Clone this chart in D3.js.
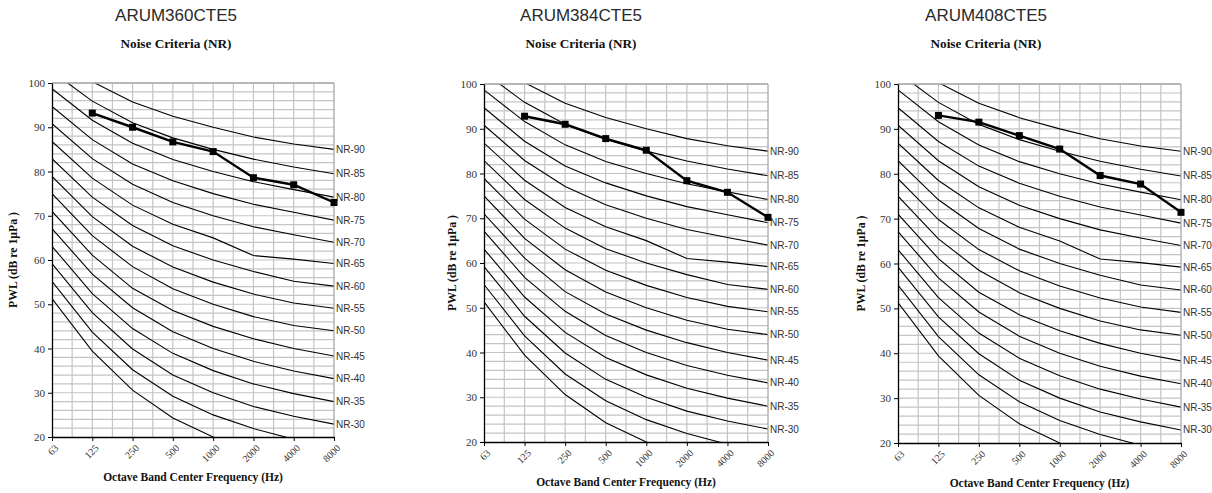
<!DOCTYPE html>
<html>
<head>
<meta charset="utf-8">
<script src="https://cdn.jsdelivr.net/npm/d3@7/dist/d3.min.js"></script>
<style>
  html, body { margin: 0; padding: 0; background: #fff; }
  svg { display: block; }
</style>
</head>
<body>
<svg id="chart" width="1212" height="493"></svg>
<script>
// ---------- DATA ----------
const freqLabels = ["63", "125", "250", "500", "1000", "2000", "4000", "8000"];
const yTickValues = [20, 30, 40, 50, 60, 70, 80, 90, 100];
const models = ["ARUM360CTE5", "ARUM384CTE5", "ARUM408CTE5"];

// Noise Rating curves (dB) at 63..8000 Hz
const nrNames = ["NR-20", "NR-25", "NR-30", "NR-35", "NR-40", "NR-45", "NR-50", "NR-55",
                 "NR-60", "NR-65", "NR-70", "NR-75", "NR-80", "NR-85", "NR-90"];
const nr20 = [51.3, 39.4, 30.6, 24.3, 20.0, 16.8, 14.4, 12.6];
const nr25 = [55.2, 43.7, 35.2, 29.2, 25.0, 21.9, 19.5, 17.7];
const nr30 = [59.2, 48.1, 39.9, 34.0, 30.0, 26.9, 24.7, 22.9];
const nr35 = [63.1, 52.4, 44.5, 38.9, 35.0, 32.0, 29.8, 28.0];
const nr40 = [67.1, 56.8, 49.2, 43.8, 40.0, 37.1, 34.9, 33.2];
const nr45 = [71.0, 61.1, 53.6, 48.6, 45.0, 42.2, 40.0, 38.3];
const nr50 = [75.0, 65.5, 58.5, 53.5, 50.0, 47.2, 45.2, 44.0];
const nr55 = [78.9, 69.8, 63.1, 58.4, 55.0, 52.3, 50.3, 49.1];
const nr60 = [82.9, 74.2, 67.8, 63.2, 60.0, 57.4, 55.2, 54.1];
const nr65 = [86.8, 78.5, 72.4, 68.1, 65.0, 61.0, 60.2, 59.2];
const nr70 = [90.8, 82.9, 77.1, 73.0, 70.0, 67.5, 65.7, 64.0];
const nr75 = [94.7, 87.2, 81.7, 77.9, 75.0, 72.6, 70.8, 69.0];
const nr80 = [98.7, 91.6, 86.4, 82.7, 80.0, 77.7, 75.9, 74.2];
const nr85 = [102.6, 95.9, 91.0, 87.6, 85.0, 82.8, 81.0, 79.5];
const nr90 = [106.6, 100.3, 95.7, 92.5, 90.0, 87.8, 86.2, 85.0];
const nrValues = [nr20, nr25, nr30, nr35, nr40, nr45, nr50, nr55, nr60, nr65, nr70, nr75, nr80, nr85, nr90];

// Measured sound power levels (no 63 Hz value)
const pwl360 = [null, 93.2, 90.0, 86.7, 84.5, 78.6, 77.0, 73.0];
const pwl384 = [null, 92.8, 91.0, 87.8, 85.2, 78.4, 75.8, 70.2];
const pwl408 = [null, 93.0, 91.5, 88.5, 85.5, 79.6, 77.7, 71.4];
const pwlSeries = [pwl360, pwl384, pwl408];

const chartTitle = "Noise Criteria (NR)";
const yAxisTitle = "PWL (dB re 1µPa )";
const xAxisTitle = "Octave Band Center Frequency (Hz)";

// ---------- LAYOUT ----------
const panels = [
  { left: 52,  right: 334,  top: 83, bottom: 437, titleX: 176, yLabelX: 13 },
  { left: 484, right: 768,  top: 84, bottom: 442, titleX: 581, yLabelX: 452 },
  { left: 898, right: 1181, top: 84, bottom: 443, titleX: 986, yLabelX: 861 }
];

const svg = d3.select("#chart");
const serif = "'Liberation Serif', 'Times New Roman', serif";
const sans = "'Liberation Sans', Arial, sans-serif";

panels.forEach((p, pi) => {
  const g = svg.append("g").attr("class", "panel");
  const x = d3.scalePoint().domain(freqLabels).range([p.left, p.right]).padding(0);
  const xi = d3.scaleLinear().domain([0, freqLabels.length - 1]).range([p.left, p.right]);
  const y = d3.scaleLinear().domain([20, 100]).range([p.bottom, p.top]);

  // titles
  g.append("text").attr("x", p.titleX).attr("y", 21)
    .attr("text-anchor", "middle").attr("font-family", sans).attr("font-size", 17)
    .attr("fill", "#2a2a2a").text(models[pi]);
  g.append("text").attr("x", p.titleX).attr("y", 48)
    .attr("text-anchor", "middle").attr("font-family", serif).attr("font-size", 12)
    .attr("font-weight", "bold").attr("fill", "#111")
    .attr("textLength", 111).attr("lengthAdjust", "spacingAndGlyphs").text(chartTitle);

  // grid
  const grid = g.append("g").attr("stroke", "#c4c4c4").attr("stroke-width", 1.2).attr("fill", "none");
  const hVals = d3.range(11, 51).map(i => i * 2);
  grid.selectAll(".gh").data(hVals).join("line").attr("class", "gh")
    .attr("x1", p.left).attr("x2", p.right)
    .attr("y1", d => y(d)).attr("y2", d => y(d));
  const vIdx = d3.range(1, 2 * (freqLabels.length - 1)).map(i => i / 2);
  grid.selectAll(".gv").data(vIdx).join("line").attr("class", "gv")
    .attr("x1", d => xi(d)).attr("x2", d => xi(d))
    .attr("y1", p.top).attr("y2", p.bottom);

  // clip
  const clipId = "clip" + pi;
  g.append("clipPath").attr("id", clipId).append("rect")
    .attr("x", p.left).attr("y", p.top).attr("width", p.right - p.left).attr("height", p.bottom - p.top);

  const line = d3.line()
    .defined(d => d[1] != null)
    .x(d => x(d[0])).y(d => y(d[1]));

  // NR curves
  const curves = g.append("g").attr("clip-path", `url(#${clipId})`);
  nrValues.forEach(vals => {
    curves.append("path")
      .datum(freqLabels.map((f, i) => [f, vals[i]]))
      .attr("d", line).attr("fill", "none").attr("stroke", "#000").attr("stroke-width", 1.1);
  });

  // NR labels
  nrValues.forEach((vals, k) => {
    const v = vals[vals.length - 1];
    if (v < 20) return;
    g.append("text").attr("x", p.right + 2).attr("y", y(v))
      .attr("dy", "0.35em").attr("font-family", sans).attr("font-size", 10)
      .attr("fill", "#333").text(nrNames[k]);
  });

  // top & right border
  g.append("line").attr("x1", p.left).attr("x2", p.right).attr("y1", p.top).attr("y2", p.top)
    .attr("stroke", "#a8a8a8").attr("stroke-width", 1.3);
  g.append("line").attr("x1", p.right).attr("x2", p.right).attr("y1", p.top).attr("y2", p.bottom)
    .attr("stroke", "#a8a8a8").attr("stroke-width", 1.3);

  // axes
  const yAxis = d3.axisLeft(y).tickValues(yTickValues).tickSize(4).tickSizeOuter(0).tickPadding(3);
  const ya = g.append("g").attr("transform", `translate(${p.left},0)`).call(yAxis);
  ya.select(".domain").attr("stroke", "#000").attr("stroke-width", 1.3);
  ya.selectAll(".tick line").attr("stroke", "#000");
  ya.selectAll(".tick text").attr("font-family", serif).attr("font-size", 11).attr("fill", "#333");

  const xAxis = d3.axisBottom(x).tickSize(4).tickSizeOuter(0);
  const xa = g.append("g").attr("transform", `translate(0,${p.bottom})`).call(xAxis);
  xa.select(".domain").attr("stroke", "#000").attr("stroke-width", 1.3);
  xa.selectAll(".tick line").attr("stroke", "#000");
  xa.selectAll(".tick text")
    .attr("font-family", serif).attr("font-size", 10).attr("fill", "#333")
    .attr("text-anchor", "end").attr("dy", null).attr("y", null)
    .attr("transform", "translate(5,10) rotate(-45)")
    .attr("dominant-baseline", "middle");

  // measured series
  const sData = freqLabels.map((f, i) => [f, pwlSeries[pi][i]]);
  g.append("path").datum(sData).attr("d", line)
    .attr("fill", "none").attr("stroke", "#000").attr("stroke-width", 2.4);
  g.selectAll(".mk").data(sData.filter(d => d[1] != null)).join("rect").attr("class", "mk")
    .attr("x", d => x(d[0]) - 3.5).attr("y", d => y(d[1]) - 3.5)
    .attr("width", 7).attr("height", 7).attr("fill", "#000");

  // axis titles
  const cy = (p.top + p.bottom) / 2;
  g.append("text").attr("transform", `translate(${p.yLabelX + 4},${cy}) rotate(-90)`)
    .attr("text-anchor", "middle").attr("font-family", serif).attr("font-size", 11.5)
    .attr("font-weight", "bold").attr("fill", "#111")
    .attr("textLength", 96).attr("lengthAdjust", "spacingAndGlyphs").text(yAxisTitle);
  g.append("text").attr("x", (p.left + p.right) / 2).attr("y", p.bottom + 44)
    .attr("text-anchor", "middle").attr("font-family", serif).attr("font-size", 11.5)
    .attr("font-weight", "bold").attr("fill", "#111").text(xAxisTitle);
});
</script>
</body>
</html>
